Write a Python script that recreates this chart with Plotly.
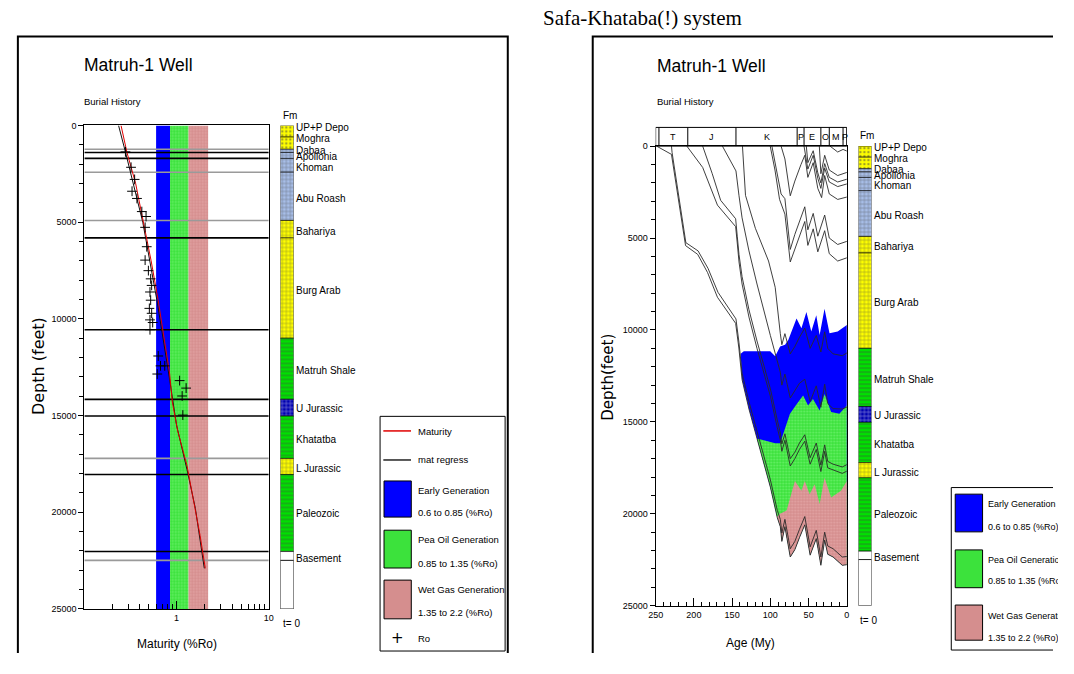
import plotly.graph_objects as go

# figures as large as the window get shrunk on the page; this size renders 1:1 from the top-left corner
W, H = 1058, 658
SANS = "Liberation Sans, Arial, sans-serif"
SERIF = "Liberation Serif, Times New Roman, serif"
WIDE = "DejaVu Sans, sans-serif"


def fx(p):
    return p / W


def fy(p):
    return 1 - p / H


# ------------------------------------------------------------------ data
depth_range = [25000, 0]
ro_range = [0.1, 10]
age_range = [250, 0]

# maturity windows
band_lo = [0.6, 0.85, 1.35]
band_hi = [0.85, 1.35, 2.2]
band_colors = ["#0000FF", "#3CE23C", "#D58E8E"]
band_fg = ["#0000FF", "#9CFF9C", "#F2BDBD"]

# formation top lines in the maturity plot
hline_depth_black = [1400, 1705, 5813, 10565, 14161, 15026, 18044, 22030]
hline_depth_gray = [1232, 2418, 4912, 17214, 22488]

# maturity (red) and regression (black)
mat_ro = [0.25, 0.29, 0.36, 0.44, 0.53, 0.63, 0.74, 0.84, 0.90, 1.03, 1.30, 1.55, 1.80, 2.05]
mat_depth = [0, 1400, 3000, 5000, 7000, 9000, 11000, 12800, 14300, 15800, 17600, 19500, 21200, 22900]
reg_ro = [0.235, 0.28, 0.43, 0.61, 0.82, 1.0, 1.3, 1.6, 2.0]
reg_depth = [0, 1400, 5000, 9000, 12800, 15500, 17800, 19800, 22900]

# measured Ro
ro_vals = [0.279, 0.321, 0.351, 0.329, 0.372, 0.420, 0.467, 0.456, 0.475, 0.456, 0.495, 0.524,
           0.537, 0.515, 0.524, 0.507, 0.537, 0.515, 0.551, 0.515, 0.633, 0.670, 0.745, 0.618,
           1.08, 1.27, 1.15, 1.17]
ro_depth = [1366, 2163, 2791, 3402, 3775, 4454, 4708, 5268, 6270, 6963, 7508, 7931,
            8271, 8611, 9035, 9458, 9713, 10053, 10189, 10562, 11920, 12430, 12430, 12852,
            13193, 13580, 13988, 14975]

# formation column
fm_names = ["UP+P Depo", "Moghra", "Dabaa", "Apollonia", "Khoman", "Abu Roash", "Bahariya",
            "Burg Arab", "Matruh Shale", "U Jurassic", "Khatatba", "L Jurassic", "Paleozoic", "Basement"]
fm_top = [0, 600, 1232, 1400, 1705, 2418, 4912, 5813, 11000, 14161, 15026, 17214, 18044, 22030]
fm_base = [600, 1232, 1400, 1705, 2418, 4912, 5813, 11000, 14161, 15026, 17214, 18044, 22030, 22488]
fm_label_depth = [90, 690, 1270, 1610, 2150, 3770, 5470, 8510, 12670, 14640, 16240, 17750, 20060, 22390]
fm_color = ["#FFFF00", "#FFFF00", "#A8BEE8", "#A8BEE8", "#A8BEE8", "#A8BEE8", "#FFFF00",
            "#FFFF00", "#00E000", "#0000B0", "#00E000", "#FFFF00", "#00E000", "#FFFFFF"]
fm_fg = ["#9A9A00", "#9A9A00", "#1E2E5C", "#1E2E5C", "#1E2E5C", "#1E2E5C", "#8A8A00",
         "#8A8A00", "#006400", "#000050", "#006400", "#8A8A00", "#006400", "#FFFFFF"]
fm_pattern = [".", ".", "+", "+", "+", "+", "+", "+", "-", "+", "-", "+", "-", ""]
t0_top = [22488]
t0_base = [25000]

# geological periods (burial history header)
per_bounds = [245.7, 208, 145, 65, 56, 34, 23, 5, 0]
per_labels = ["T", "J", "K", "P", "E", "O", "M", "P"]

# burial history horizons (age My, depth ft)
A_age = [248.7, 229.3, 210.9, 195, 182.1, 169.2, 145.4, 141.2, 137, 128, 117.5, 100, 91,
         87, 85, 81, 74, 68, 62, 55, 48, 40, 34, 29, 25, 18, 6, 0]
A_dep = [0, 450, 5410, 5890, 6880, 8220, 9640, 10980, 12700, 14300, 15900, 18550, 20200,
         20700, 21500, 20700, 22350, 21950, 21300, 20600, 22250, 21350, 22800, 21430, 22200, 22350, 22800, 22770]
B_age = [229.3, 228.5, 210.5, 194.5, 181.5, 168.5, 145, 141, 137, 128, 117.5, 100, 91,
         87, 85, 81, 74, 68, 62, 55, 48, 40, 34, 29, 25, 18, 6, 0]
B_dep = [0, 350, 5250, 5700, 6650, 7950, 9400, 10700, 12350, 13900, 15500, 18150, 19800,
         20300, 21050, 20300, 21900, 21500, 20850, 20150, 21800, 20900, 22350, 21000, 21750, 21900, 22350, 22320]
C_age = [209.2, 188.5, 169.2, 145.4, 143.3, 141, 137, 128, 117.5, 100, 91,
         87, 85, 81, 74, 68, 62, 55, 48, 40, 34, 29, 25, 18, 6, 0]
C_dep = [0, 1160, 3210, 4380, 5270, 6300, 7500, 9300, 11000, 13600, 15300,
         16000, 16600, 16000, 17400, 17000, 16500, 16050, 17300, 16500, 17700, 16600, 17500, 17600, 17800, 17680]
D_age = [188.5, 176, 165, 145.4, 143.3, 141, 137, 128, 117.5, 100, 91,
         87, 85, 81, 74, 68, 62, 55, 48, 40, 34, 29, 25, 18, 6, 0]
D_dep = [0, 1500, 2950, 3950, 4900, 5900, 7100, 8900, 10600, 13200, 14900,
         15600, 16200, 15650, 17000, 16650, 16150, 15700, 16950, 16150, 17350, 16250, 17150, 17300, 17450, 17325]
E_age = [162.7, 150, 145, 141, 137, 128, 117.5, 100, 91,
         87, 85, 81, 74, 68, 62, 55, 48, 40, 34, 29, 25, 18, 6, 0]
E_dep = [0, 1000, 1350, 2700, 3900, 5700, 7500, 10300, 11700,
         12300, 13000, 12400, 13700, 13300, 12900, 12680, 13900, 13040, 14200, 12950, 14000, 14280, 14300, 14196]
F_age = [136.5, 132.5, 119.6, 102.4, 93.7, 91,
         87, 85, 81, 74, 68, 62, 55, 48, 40, 34, 29, 25, 18, 6, 0]
F_dep = [0, 2680, 4470, 6250, 7680, 8800,
         10200, 10800, 10200, 11300, 10900, 10400, 9900, 11000, 10300, 11200, 10100, 11000, 11300, 11400, 11250]
G_age = [100.2, 94, 88, 81, 74, 68, 60, 55, 51, 44, 38, 29, 23, 12, 0]
G_dep = [0, 1300, 2900, 3700, 6300, 5600, 4700, 4100, 5400, 4500, 5750, 4600, 5850, 6250, 6075]
H_age = [98, 92, 86, 81, 74, 68, 60, 55, 51, 44, 38, 29, 23, 12, 0]
H_dep = [0, 1300, 2600, 2860, 5620, 4800, 3900, 3300, 4550, 3660, 4900, 3750, 5000, 5350, 5180]
I_age = [86, 81, 74, 68, 60, 55, 51, 44, 38, 33, 29, 23, 12, 0]
I_dep = [0, 700, 2700, 1900, 1000, 500, 1700, 900, 2300, 2800, 1600, 2600, 2900, 2770]
J_age = [56, 51, 44, 38, 34, 29, 23, 12, 0]
J_dep = [0, 1250, 500, 1750, 2300, 1200, 1950, 2200, 2057]
K_age = [53, 51, 44, 38, 34, 29, 23, 12, 0]
K_dep = [0, 900, 250, 1450, 2000, 950, 1700, 1950, 1800]
L_age = [36, 34, 29, 23, 12, 0]
L_dep = [0, 1500, 500, 1300, 1600, 1430]
M_age = [22, 12, 5, 0]
M_dep = [0, 320, 180, 268]

# maturity zone boundaries in burial history
blue_top_age = [138.9, 134.7, 100.2, 93.7, 87.3, 80.8, 76.6, 65.8, 59.4, 52.9, 46.5, 40, 35.6, 29.2, 22.7, 12, 0]
blue_top_dep = [11300, 11160, 11160, 11430, 10900, 10800, 10540, 9375, 9910, 9020, 10090, 9200, 10270, 8840, 10180, 10090, 9730]
green_top_age = [118, 93.7, 87.3, 80.8, 74.4, 65, 57.2, 50.7, 44.3, 35.6, 29.2, 20.6, 9.8, 0]
green_top_dep = [15900, 16160, 16160, 15360, 14555, 14000, 13570, 14110, 13750, 14380, 13480, 14460, 14555, 14110]
pink_top_age = [91.7, 87.3, 78.8, 67.9, 59.4, 55, 48.6, 42.1, 35.6, 29.2, 20.6, 7.7, 0]
pink_top_dep = [20180, 20000, 19820, 18210, 18750, 18210, 18930, 18390, 19460, 18040, 19110, 18750, 18210]

# ------------------------------------------------------------------ figure
fig = go.Figure()

# ---- left: maturity windows
for lo, hi, col, fg in zip(band_lo, band_hi, band_colors, band_fg):
    fig.add_trace(go.Scatter(
        x=[lo, hi, hi, lo, lo],
        y=[depth_range[1], depth_range[1], depth_range[0], depth_range[0], depth_range[1]],
        mode="lines", fill="toself", fillcolor=col, line=dict(width=0),
        fillpattern=dict(shape=".", fgcolor=fg, bgcolor=col, size=3, solidity=0.3),
        xaxis="x", yaxis="y", hoverinfo="skip", showlegend=False))

# horizontal formation lines
for deps, col in [(hline_depth_gray, "#9A9A9A"), (hline_depth_black, "#000000")]:
    xs, ys = [], []
    for d in deps:
        xs += [ro_range[0], ro_range[1], None]
        ys += [d, d, None]
    fig.add_trace(go.Scatter(x=xs, y=ys, mode="lines", line=dict(color=col, width=1.6),
                             xaxis="x", yaxis="y", hoverinfo="skip", showlegend=False))

fig.add_trace(go.Scatter(x=reg_ro, y=reg_depth, mode="lines", line=dict(color="#111111", width=1),
                         xaxis="x", yaxis="y", showlegend=False))
fig.add_trace(go.Scatter(x=mat_ro, y=mat_depth, mode="lines", line=dict(color="#E00000", width=1),
                         xaxis="x", yaxis="y", showlegend=False))
fig.add_trace(go.Scatter(x=ro_vals, y=ro_depth, mode="markers",
                         marker=dict(symbol="cross-thin", size=7, line=dict(color="black", width=1)),
                         xaxis="x", yaxis="y", showlegend=False))

# ---- formation columns
fm_thick = [b - t for t, b in zip(fm_top, fm_base)]
t0_thick = [b - t for t, b in zip(t0_top, t0_base)]
for xa, ya in [("x3", "y3"), ("x4", "y4")]:
    fig.add_trace(go.Bar(
        x=[0] * len(fm_top), y=fm_thick, base=fm_top, width=1,
        marker=dict(color=fm_color, line=dict(color="black", width=0.6),
                    pattern=dict(shape=fm_pattern, fgcolor=fm_fg, size=4, solidity=0.3)),
        xaxis=xa, yaxis=ya, showlegend=False, hoverinfo="skip"))
    fig.add_trace(go.Bar(
        x=[0] * len(t0_top), y=t0_thick, base=t0_top, width=1,
        marker=dict(color="white", line=dict(color="black", width=0.8)),
        xaxis=xa, yaxis=ya, showlegend=False, hoverinfo="skip"))


# ---- right: burial history maturity zones
def below_a(limit):
    pts = [(a, d) for a, d in zip(A_age, A_dep) if a <= limit]
    pts.reverse()
    return [p[0] for p in pts], [p[1] for p in pts]


for top_age, top_dep, lim, col, fg in [
    (blue_top_age, blue_top_dep, 137, "#0000FF", "#0000FF"),
    (green_top_age, green_top_dep, 117.5, "#3CE23C", "#9CFF9C"),
    (pink_top_age, pink_top_dep, 91, "#D58E8E", "#F2BDBD"),
]:
    ax, ad = below_a(lim)
    fig.add_trace(go.Scatter(
        x=top_age + ax + [top_age[0]], y=top_dep + ad + [top_dep[0]],
        mode="lines", fill="toself", fillcolor=col, line=dict(width=0),
        fillpattern=dict(shape=".", fgcolor=fg, bgcolor=col, size=3, solidity=0.3),
        xaxis="x2", yaxis="y2", hoverinfo="skip", showlegend=False))

for ages, deps in [(A_age, A_dep), (B_age, B_dep), (C_age, C_dep), (D_age, D_dep),
                   (E_age, E_dep), (F_age, F_dep), (G_age, G_dep), (H_age, H_dep),
                   (I_age, I_dep), (J_age, J_dep), (K_age, K_dep), (L_age, L_dep), (M_age, M_dep)]:
    fig.add_trace(go.Scatter(x=ages, y=deps, mode="lines", line=dict(color="#2A2A2A", width=0.9),
                             xaxis="x2", yaxis="y2", hoverinfo="skip", showlegend=False))

# ------------------------------------------------------------------ axes
tickfont = dict(family=SANS, size=9, color="black")
depth_ticks = [0, 5000, 10000, 15000, 20000, 25000]
axis_common = dict(showgrid=False, zeroline=False, showline=True, linecolor="black", linewidth=1,
                   mirror=True, tickfont=tickfont, tickcolor="black", fixedrange=True)

fig.update_layout(
    width=W, height=H, margin=dict(l=0, r=0, t=0, b=0),
    paper_bgcolor="white", plot_bgcolor="white", showlegend=False, barmode="overlay",
    xaxis=dict(domain=[fx(77.3), fx(264)], type="log", range=[-1, 1], anchor="y",
               tickvals=[1, 10], ticktext=["1", "10"], ticks="inside", ticklen=8,
               minor=dict(ticks="inside", ticklen=5, tickcolor="black",
                          tickvals=[0.2, 0.3, 0.4, 0.5, 0.6, 0.7, 0.8, 0.9, 2, 3, 4, 5, 6, 7, 8, 9]),
               **axis_common),
    yaxis=dict(domain=[fy(613.3), fy(122.3)], range=depth_range, anchor="x",
               tickvals=depth_ticks, ticktext=[str(v) for v in depth_ticks], ticks="outside", ticklen=5,
               minor=dict(dtick=1000, ticks="outside", ticklen=4, tickcolor="black"),
               **axis_common),
    xaxis2=dict(domain=[fx(655.7), fx(849.3)], range=age_range, anchor="y2",
                tickvals=[250, 200, 150, 100, 50, 0], ticktext=["250", "200", "150", "100", "50", "0"],
                ticks="inside", ticklen=8,
                minor=dict(dtick=10, ticks="inside", ticklen=4, tickcolor="black"),
                **axis_common),
    yaxis2=dict(domain=[fy(610), fy(143.3)], range=depth_range, anchor="x2",
                tickvals=depth_ticks, ticktext=[str(v) for v in depth_ticks], ticks="outside", ticklen=5,
                minor=dict(dtick=1000, ticks="outside", ticklen=4, tickcolor="black"),
                **axis_common),
    xaxis3=dict(domain=[fx(275.7), fx(289.3)], range=[-0.5, 0.5], anchor="y3", visible=False, fixedrange=True),
    yaxis3=dict(domain=[fy(613.3), fy(122.3)], range=depth_range, anchor="x3", visible=False, fixedrange=True),
    xaxis4=dict(domain=[fx(861), fx(874.3)], range=[-0.5, 0.5], anchor="y4", visible=False, fixedrange=True),
    yaxis4=dict(domain=[fy(610), fy(143.3)], range=depth_range, anchor="x4", visible=False, fixedrange=True),
)

shapes = []
anns = []


def text(x, y, s, size=10, family=SANS, xanchor="left", yanchor="middle", xref="paper", yref="paper",
         angle=0):
    anns.append(dict(x=x, y=y, xref=xref, yref=yref, text=s, showarrow=False, xanchor=xanchor,
                     yanchor=yanchor, textangle=angle, font=dict(family=family, size=size, color="black")))


def open_box(x0, y0, x1, y1, sides, width=2):
    """Frame drawn in page pixels, kept inside the figure (open where it runs off the page)."""
    pts = {"bl": (x0, y1), "tl": (x0, y0), "tr": (x1, y0), "br": (x1, y1)}
    path = "M " + " L ".join(f"{fx(pts[k][0]):.5f},{fy(pts[k][1]):.5f}" for k in sides)
    shapes.append(dict(type="path", xref="paper", yref="paper", path=path,
                       line=dict(color="black", width=width)))


# panel frames (they run off the bottom / right edge in the reference)
open_box(10, 32, 506, H, ["bl", "tl", "tr", "br"])
open_box(592, 32, W, H, ["bl", "tl", "tr"])

# main title
text(fx(642), fy(13), "Safa-Khataba(!) system", size=21, family=SERIF, xanchor="center")

# panel titles
for x0, yt in [(75, 61), (655, 62)]:
    text(fx(x0), fy(yt), "Matruh-1 Well", size=17.5)
    text(fx(x0), fy(98), "Burial History", size=9.5)

# axis titles
text(fx(31), fy(367), "Depth (feet)", size=16, family=WIDE, xanchor="center", angle=-90)
text(fx(608), fy(378), "Depth(feet)", size=15, family=WIDE, xanchor="center", angle=-90)
text(fx(171), fy(649), "Maturity (%Ro)", size=12, xanchor="center")
text(fx(752), fy(648), "Age (My)", size=12, xanchor="center")

# formation column labels
for xcol, xref_y, fm_y in [(276, "y3", 112), (861, "y4", 133)]:
    text(fx(xcol), fy(fm_y), "Fm", size=10)
    for name, d in zip(fm_names, fm_label_depth):
        text(fx(xcol + 13.5), d, name, size=10, yref=xref_y)
text(fx(276), fy(628), "t= 0", size=10)
text(fx(861), fy(625), "t= 0", size=10)

# geological period header
shapes.append(dict(type="rect", xref="x2", yref="paper", x0=age_range[0], x1=age_range[1],
                   y0=fy(143.3), y1=fy(124.3), line=dict(color="black", width=1)))
for b in per_bounds:
    shapes.append(dict(type="line", xref="x2", yref="paper", x0=b, x1=b, y0=fy(143.3), y1=fy(124.3),
                       line=dict(color="black", width=1)))
for i, lab in enumerate(per_labels):
    mid = (per_bounds[i] + per_bounds[i + 1]) / 2
    text(mid, fy(133.8), lab, size=9, xref="x2", xanchor="center")

# left legend
shapes.append(dict(type="rect", xref="paper", yref="paper", x0=fx(376.7), x1=fx(503.3), y0=fy(656),
                   y1=fy(417.7), line=dict(color="black", width=1), fillcolor="white", layer="above"))
shapes.append(dict(type="line", xref="paper", yref="paper", x0=fx(380), x1=fx(408), y0=fy(432.5), y1=fy(432.5),
                   line=dict(color="#E00000", width=1.5)))
shapes.append(dict(type="line", xref="paper", yref="paper", x0=fx(380), x1=fx(408), y0=fy(462), y1=fy(462),
                   line=dict(color="#222222", width=1.5)))
text(fx(413), fy(433), "Maturity", size=9.5)
text(fx(413), fy(462), "mat regress", size=9.5)
leg_rows = [(483.3, 520, 492.7, 515), (533.3, 571.7, 542.7, 566.7), (584, 623.3, 593.3, 617.3)]
leg_text = [("Early Generation", "0.6 to 0.85 (%Ro)"), ("Pea Oil Generation", "0.85 to 1.35 (%Ro)"),
            ("Wet Gas Generation", "1.35 to 2.2 (%Ro)")]
for (y0, y1, t1, t2), (s1, s2), col in zip(leg_rows, leg_text, band_colors):
    shapes.append(dict(type="rect", xref="paper", yref="paper", x0=fx(380.7), x1=fx(408.3), y0=fy(y1), y1=fy(y0),
                       fillcolor=col, line=dict(color="black", width=1), layer="above"))
    text(fx(413), fy(t1), s1, size=9.5)
    text(fx(413), fy(t2), s2, size=9.5)
text(fx(394.3), fy(643), "+", size=15, family=WIDE, xanchor="center")
text(fx(413), fy(643), "Ro", size=9.5)

# right legend (box runs off the right edge of the page)
shapes.append(dict(type="rect", xref="paper", yref="paper", x0=fx(955), x1=1, y0=fy(655),
                   y1=fy(490), line=dict(width=0), fillcolor="white", layer="above"))
open_box(955, 490, W, 655, ["tr", "tl", "bl", "br"], width=1)
leg_rows_r = [(496.7, 535, 506.7, 530), (553.3, 591.7, 563.3, 585), (609.3, 645, 620, 643)]
for (y0, y1, t1, t2), (s1, s2), col in zip(leg_rows_r, leg_text, band_colors):
    shapes.append(dict(type="rect", xref="paper", yref="paper", x0=fx(959), x1=fx(986.7), y0=fy(y1), y1=fy(y0),
                       fillcolor=col, line=dict(color="black", width=1), layer="above"))
    text(fx(990.5), fy(t1), s1, size=9)
    text(fx(990.5), fy(t2), s2, size=9)

fig.update_layout(shapes=shapes, annotations=anns)
fig.write_html("out.html", config={"displayModeBar": False})
